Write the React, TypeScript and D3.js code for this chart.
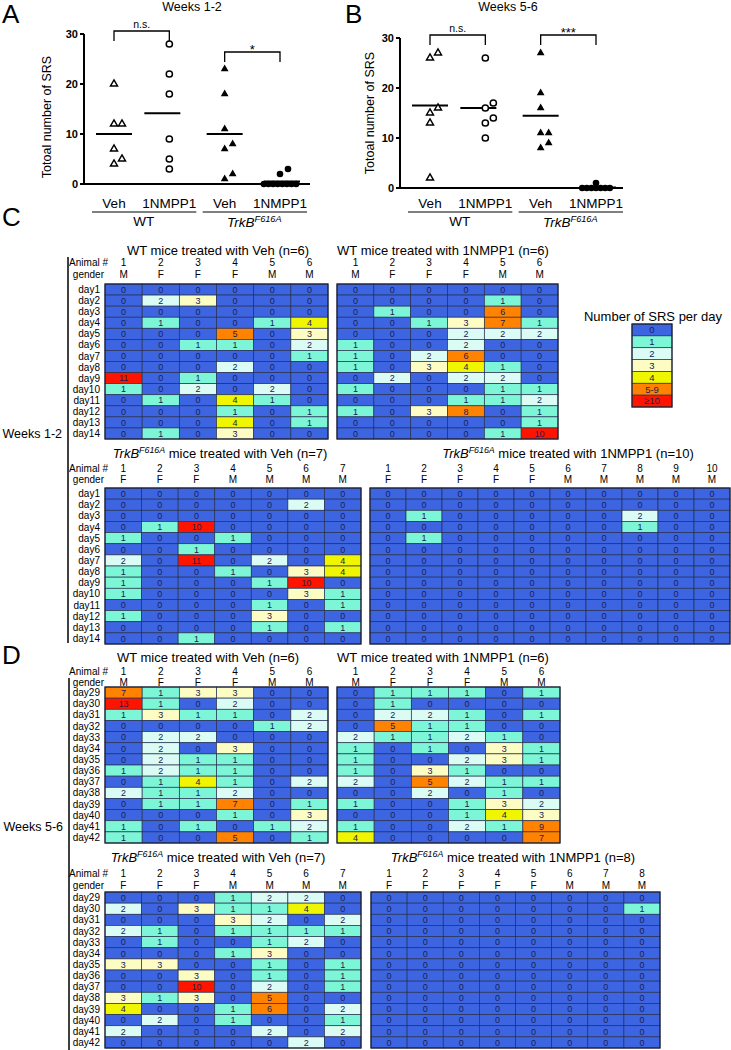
import React from "react";
import * as d3 from "d3";

const FONT = "'Liberation Sans', Arial, Helvetica, sans-serif";

// ---------------- Panels A & B : total SRS per animal ----------------
const treatmentLabels = ["Veh", "1NMPP1", "Veh", "1NMPP1"];
const yTicks = [0, 10, 20, 30];

const wk12WTVeh = [20, 12, 12, 7, 5, 4];
const wk12WTNmpp1 = [28, 22, 18, 9, 5, 3];
const wk12TrkBVeh = [23, 18, 11, 8, 7, 2, 1];
const wk12TrkBNmpp1 = [3, 2, 0, 0, 0, 0, 0, 0, 0, 0];

const wk56WTVeh = [27, 26, 16, 15, 13, 2];
const wk56WTNmpp1 = [26, 17, 16, 14, 13, 10];
const wk56TrkBVeh = [27, 19, 16, 11, 11, 9, 8];
const wk56TrkBNmpp1 = [1, 0, 0, 0, 0, 0, 0, 0];

// ---------------- Panels C & D : SRS per day ----------------
const days12 = ["day1", "day2", "day3", "day4", "day5", "day6", "day7", "day8", "day9", "day10", "day11", "day12", "day13", "day14"];
const days56 = ["day29", "day30", "day31", "day32", "day33", "day34", "day35", "day36", "day37", "day38", "day39", "day40", "day41", "day42"];

const cWTVehGender = ["M", "F", "F", "F", "M", "M"];
const cWTVeh = [
  [0, 0, 0, 0, 0, 0],
  [0, 2, 3, 0, 0, 0],
  [0, 0, 0, 0, 0, 0],
  [0, 1, 0, 0, 1, 4],
  [0, 0, 0, 5, 0, 3],
  [0, 0, 1, 1, 0, 2],
  [0, 0, 0, 0, 0, 1],
  [0, 0, 0, 2, 0, 0],
  [11, 0, 1, 0, 0, 0],
  [1, 0, 2, 0, 2, 0],
  [0, 1, 0, 4, 1, 0],
  [0, 0, 0, 1, 0, 1],
  [0, 0, 0, 4, 0, 1],
  [0, 1, 0, 3, 0, 0],
];

const cWTNmpp1Gender = ["M", "F", "F", "F", "M", "M"];
const cWTNmpp1 = [
  [0, 0, 0, 0, 0, 0],
  [0, 0, 0, 0, 1, 0],
  [0, 1, 0, 0, 6, 0],
  [0, 0, 1, 3, 7, 1],
  [0, 0, 0, 2, 2, 2],
  [1, 0, 0, 2, 0, 0],
  [1, 0, 2, 6, 0, 0],
  [1, 0, 3, 4, 1, 0],
  [0, 2, 0, 2, 2, 0],
  [1, 0, 0, 0, 1, 1],
  [0, 0, 0, 1, 1, 2],
  [1, 0, 3, 8, 0, 1],
  [0, 0, 0, 0, 0, 1],
  [0, 0, 0, 0, 1, 10],
];

const cTrkBVehGender = ["F", "F", "F", "M", "M", "M", "M"];
const cTrkBVeh = [
  [0, 0, 0, 0, 0, 0, 0],
  [0, 0, 0, 0, 0, 2, 0],
  [0, 0, 0, 0, 0, 0, 0],
  [0, 1, 10, 0, 0, 0, 0],
  [1, 0, 0, 1, 0, 0, 0],
  [0, 0, 1, 0, 0, 0, 0],
  [2, 0, 11, 0, 2, 0, 4],
  [1, 0, 0, 1, 0, 3, 4],
  [1, 0, 0, 0, 1, 10, 0],
  [1, 0, 0, 0, 0, 3, 1],
  [0, 0, 0, 0, 1, 0, 1],
  [1, 0, 0, 0, 3, 0, 0],
  [0, 0, 0, 0, 1, 0, 1],
  [0, 0, 1, 0, 0, 0, 0],
];

const cTrkBNmpp1Gender = ["F", "F", "F", "F", "F", "M", "M", "M", "M", "M"];
const cTrkBNmpp1 = [
  [0, 0, 0, 0, 0, 0, 0, 0, 0, 0],
  [0, 0, 0, 0, 0, 0, 0, 0, 0, 0],
  [0, 1, 0, 0, 0, 0, 0, 2, 0, 0],
  [0, 0, 0, 0, 0, 0, 0, 1, 0, 0],
  [0, 1, 0, 0, 0, 0, 0, 0, 0, 0],
  [0, 0, 0, 0, 0, 0, 0, 0, 0, 0],
  [0, 0, 0, 0, 0, 0, 0, 0, 0, 0],
  [0, 0, 0, 0, 0, 0, 0, 0, 0, 0],
  [0, 0, 0, 0, 0, 0, 0, 0, 0, 0],
  [0, 0, 0, 0, 0, 0, 0, 0, 0, 0],
  [0, 0, 0, 0, 0, 0, 0, 0, 0, 0],
  [0, 0, 0, 0, 0, 0, 0, 0, 0, 0],
  [0, 0, 0, 0, 0, 0, 0, 0, 0, 0],
  [0, 0, 0, 0, 0, 0, 0, 0, 0, 0],
];

const dWTVehGender = ["M", "F", "F", "F", "M", "M"];
const dWTVeh = [
  [7, 1, 3, 3, 0, 0],
  [13, 1, 0, 2, 0, 0],
  [1, 3, 1, 1, 0, 2],
  [0, 0, 0, 0, 1, 2],
  [0, 2, 2, 0, 0, 0],
  [0, 2, 0, 3, 0, 0],
  [0, 2, 1, 1, 0, 0],
  [1, 2, 1, 1, 0, 0],
  [0, 1, 4, 1, 0, 2],
  [2, 1, 1, 2, 0, 0],
  [0, 1, 1, 7, 0, 1],
  [0, 0, 0, 1, 0, 3],
  [1, 0, 1, 0, 1, 2],
  [1, 0, 0, 5, 0, 1],
];

const dWTNmpp1Gender = ["M", "F", "F", "F", "M", "M"];
const dWTNmpp1 = [
  [0, 1, 1, 1, 0, 1],
  [0, 1, 0, 0, 0, 0],
  [0, 2, 2, 1, 0, 1],
  [0, 5, 1, 1, 0, 0],
  [2, 1, 1, 2, 1, 0],
  [1, 0, 1, 0, 3, 1],
  [1, 0, 0, 2, 3, 1],
  [1, 0, 3, 1, 0, 0],
  [2, 0, 5, 2, 1, 1],
  [0, 0, 2, 0, 1, 0],
  [1, 0, 0, 1, 3, 2],
  [0, 0, 0, 1, 4, 3],
  [1, 0, 0, 2, 1, 9],
  [4, 0, 0, 0, 0, 7],
];

const dTrkBVehGender = ["F", "F", "F", "M", "M", "M", "M"];
const dTrkBVeh = [
  [0, 0, 0, 1, 2, 2, 0],
  [2, 0, 3, 1, 1, 4, 0],
  [0, 0, 0, 3, 2, 0, 2],
  [2, 1, 0, 1, 1, 1, 1],
  [0, 1, 0, 0, 1, 2, 0],
  [0, 0, 0, 1, 3, 0, 0],
  [3, 3, 0, 0, 1, 0, 1],
  [0, 0, 3, 0, 1, 0, 1],
  [0, 0, 10, 0, 2, 0, 1],
  [3, 1, 3, 0, 5, 0, 0],
  [4, 0, 0, 1, 6, 0, 2],
  [0, 2, 0, 1, 0, 0, 1],
  [2, 0, 0, 0, 2, 0, 2],
  [0, 0, 0, 0, 0, 2, 0],
];

const dTrkBNmpp1Gender = ["F", "F", "F", "F", "F", "M", "M", "M"];
const dTrkBNmpp1 = [
  [0, 0, 0, 0, 0, 0, 0, 0],
  [0, 0, 0, 0, 0, 0, 0, 1],
  [0, 0, 0, 0, 0, 0, 0, 0],
  [0, 0, 0, 0, 0, 0, 0, 0],
  [0, 0, 0, 0, 0, 0, 0, 0],
  [0, 0, 0, 0, 0, 0, 0, 0],
  [0, 0, 0, 0, 0, 0, 0, 0],
  [0, 0, 0, 0, 0, 0, 0, 0],
  [0, 0, 0, 0, 0, 0, 0, 0],
  [0, 0, 0, 0, 0, 0, 0, 0],
  [0, 0, 0, 0, 0, 0, 0, 0],
  [0, 0, 0, 0, 0, 0, 0, 0],
  [0, 0, 0, 0, 0, 0, 0, 0],
  [0, 0, 0, 0, 0, 0, 0, 0],
];

// colour legend
const colorBreaks = [1, 2, 3, 4, 5, 10];
const colorRange = ["#3d65e2", "#7df6d7", "#dafcf5", "#fdfcc2", "#f0f500", "#ff8200", "#ff1400"];
const legendValues = [0, 1, 2, 3, 4, 5, 10];
const legendLabels = ["0", "1", "2", "3", "4", "5-9", "≥10"];

const color = d3.scaleThreshold<number, string>().domain(colorBreaks).range(colorRange);

// ---------------- layout ----------------
const meanShift = [0, -7, 0, 2];

const scatterPanels = [
  {
    letter: "A", letterX: 2, title: "Weeks 1-2", titleX: 192,
    axisX: 84, axisRight: 310, yTop: 34, yBottom: 184, yLabelX: 47, yLabelY: 117,
    groups: [wk12WTVeh, wk12WTNmpp1, wk12TrkBVeh, wk12TrkBNmpp1],
    brackets: [{ a: 0, b: 1, label: "n.s.", top: 31 }, { a: 2, b: 3, label: "*", top: 52 }],
  },
  {
    letter: "B", letterX: 345, title: "Weeks 5-6", titleX: 508,
    axisX: 400, axisRight: 623, yTop: 38, yBottom: 188, yLabelX: 370, yLabelY: 113,
    groups: [wk56WTVeh, wk56WTNmpp1, wk56TrkBVeh, wk56TrkBNmpp1],
    brackets: [{ a: 0, b: 1, label: "n.s.", top: 35 }, { a: 2, b: 3, label: "***", top: 35 }],
  },
];

const tables = [
  { data: cWTVeh, genders: cWTVehGender, days: days12, trkb: false, title: "WT mice treated with Veh (n=6)", titleX: 218, titleY: 250, numY: 262, genY: 274, x0: 105, x1: 328, y0: 284, y1: 439, rowLabels: true },
  { data: cWTNmpp1, genders: cWTNmpp1Gender, days: days12, trkb: false, title: "WT mice treated with 1NMPP1 (n=6)", titleX: 443, titleY: 250, numY: 262, genY: 274, x0: 337, x1: 558, y0: 284, y1: 439, rowLabels: false },
  { data: cTrkBVeh, genders: cTrkBVehGender, days: days12, trkb: true, title: " mice treated with Veh (n=7)", titleX: 220, titleY: 453, numY: 468, genY: 479, x0: 105, x1: 361, y0: 488, y1: 644, rowLabels: true },
  { data: cTrkBNmpp1, genders: cTrkBNmpp1Gender, days: days12, trkb: true, title: " mice treated with 1NMPP1 (n=10)", titleX: 568, titleY: 453, numY: 468, genY: 479, x0: 370, x1: 730, y0: 488, y1: 644, rowLabels: false },
  { data: dWTVeh, genders: dWTVehGender, days: days56, trkb: false, title: "WT mice treated with Veh (n=6)", titleX: 208, titleY: 657, numY: 671, genY: 682, x0: 105, x1: 328, y0: 687, y1: 843, rowLabels: true },
  { data: dWTNmpp1, genders: dWTNmpp1Gender, days: days56, trkb: false, title: "WT mice treated with 1NMPP1 (n=6)", titleX: 443, titleY: 657, numY: 671, genY: 682, x0: 337, x1: 560, y0: 687, y1: 843, rowLabels: false },
  { data: dTrkBVeh, genders: dTrkBVehGender, days: days56, trkb: true, title: " mice treated with Veh (n=7)", titleX: 218, titleY: 857, numY: 873, genY: 885, x0: 105, x1: 361, y0: 892, y1: 1048, rowLabels: true },
  { data: dTrkBNmpp1, genders: dTrkBNmpp1Gender, days: days56, trkb: true, title: " mice treated with 1NMPP1 (n=8)", titleX: 513, titleY: 857, numY: 873, genY: 885, x0: 371, x1: 660, y0: 892, y1: 1048, rowLabels: false },
];

// ---------------- helpers ----------------
function dodge(values: number[], y: (v: number) => number, cx: number) {
  const counts = d3.rollup(values, (v) => v.length, (d) => d);
  const out: { v: number; x: number; y: number }[] = [];
  const placed: { x: number; y: number }[] = [];
  const step = 4.6;
  for (const [val, n] of counts) {
    if (n >= 4) {
      for (let i = 0; i < n; i++) out.push({ v: val, x: cx + (i - (n - 1) / 2) * step, y: y(val) });
    }
  }
  const rest = values.filter((v) => (counts.get(v) as number) < 4).sort((a, b) => a - b);
  for (const v of rest) {
    const py = y(v);
    let px = cx;
    for (const off of [0, 8, -8, 16, -16]) {
      const cand = cx + off;
      if (!placed.some((p) => Math.abs(p.x - cand) < 6 && Math.abs(p.y - py) < 7)) {
        px = cand;
        break;
      }
    }
    placed.push({ x: px, y: py });
    out.push({ v, x: px, y: py });
  }
  return out;
}

const triOpen = d3.symbol().type(d3.symbolTriangle).size(22)() as string;
const triFill = d3.symbol().type(d3.symbolTriangle).size(26)() as string;

function Marker({ kind, x, y }: { kind: number; x: number; y: number }) {
  if (kind === 0) return <path d={triOpen} transform={`translate(${x},${y})`} fill="#fff" stroke="#000" strokeWidth={1.4} />;
  if (kind === 1) return <circle cx={x} cy={y} r={3.1} fill="#fff" stroke="#000" strokeWidth={1.5} />;
  if (kind === 2) return <path d={triFill} transform={`translate(${x},${y})`} fill="#000" />;
  return <circle cx={x} cy={y} r={3.3} fill="#000" />;
}

function TrkBLabel({ x, y, size, rest, anchor }: { x: number; y: number; size: number; rest: string; anchor: string }) {
  return (
    <text x={x} y={y} fontSize={size} textAnchor={anchor as any} fill="#000">
      <tspan fontStyle="italic">TrkB</tspan>
      <tspan fontStyle="italic" fontSize={size * 0.68} dy={-size * 0.38}>F616A</tspan>
      <tspan dy={size * 0.38}>{rest}</tspan>
    </text>
  );
}

function ScatterPanel({ cfg }: { cfg: (typeof scatterPanels)[number] }) {
  const y = d3.scaleLinear().domain([0, 30]).range([cfg.yBottom, cfg.yTop]);
  const x = d3.scalePoint<number>().domain(d3.range(4)).range([cfg.axisX + 30, cfg.axisX + 196]);
  const labY = 208;
  const lineY = 212;
  const grpY = 226;
  return (
    <g>
      <text x={cfg.letterX} y={23} fontSize={26}>{cfg.letter}</text>
      <text x={cfg.titleX} y={11} fontSize={12.5} textAnchor="middle">{cfg.title}</text>
      <text transform={`translate(${cfg.yLabelX},${cfg.yLabelY}) rotate(-90)`} fontSize={12.5} textAnchor="middle" dy="0.35em">
        Totoal number of SRS
      </text>
      {/* axes */}
      <line x1={cfg.axisX} x2={cfg.axisX} y1={y(30)} y2={y(0) + 1} stroke="#000" strokeWidth={2} />
      <line x1={cfg.axisX - 1} x2={cfg.axisRight} y1={y(0)} y2={y(0)} stroke="#000" strokeWidth={2} />
      {yTicks.map((t) => (
        <g key={t}>
          <line x1={cfg.axisX - 4} x2={cfg.axisX} y1={y(t)} y2={y(t)} stroke="#000" strokeWidth={2} />
          <text x={cfg.axisX - 6} y={y(t)} dy="0.35em" fontSize={11} fontWeight="bold" textAnchor="end">{t}</text>
        </g>
      ))}
      {/* points & means */}
      {cfg.groups.map((vals, gi) => {
        const cx = x(gi) as number;
        const pts = dodge(vals, y, cx);
        const m = d3.mean(vals) as number;
        const lc = cx + meanShift[gi];
        return (
          <g key={gi}>
            <line x1={lc - 18} x2={lc + 18} y1={y(m)} y2={y(m)} stroke="#000" strokeWidth={2} />
            {pts.map((p, i) => <Marker key={i} kind={gi} x={p.x} y={p.y} />)}
          </g>
        );
      })}
      {/* brackets */}
      {cfg.brackets.map((b, i) => {
        const xa = x(b.a) as number;
        const xb = x(b.b) as number;
        return (
          <g key={i}>
            <path d={`M${xa},${b.top + 10}V${b.top}H${xb}V${b.top + 10}`} fill="none" stroke="#000" strokeWidth={1.3} />
            <text x={(xa + xb) / 2} y={b.label === "n.s." ? b.top - 3 : b.top + 2} fontSize={b.label === "n.s." ? 10.5 : 13} textAnchor="middle">
              {b.label}
            </text>
          </g>
        );
      })}
      {/* x labels */}
      {treatmentLabels.map((l, i) => (
        <text key={i} x={x(i) as number} y={labY} fontSize={13.5} textAnchor="middle">{l}</text>
      ))}
      {[0, 2].map((a) => (
        <line key={a} x1={(x(a) as number) - 22} x2={(x(a + 1) as number) + 27} y1={lineY} y2={lineY} stroke="#000" strokeWidth={1} />
      ))}
      <text x={((x(0) as number) + (x(1) as number)) / 2 + 2} y={grpY} fontSize={13.5} textAnchor="middle">WT</text>
      <TrkBLabel x={((x(2) as number) + (x(3) as number)) / 2 + 2} y={grpY + 1} size={13.5} rest="" anchor="middle" />
    </g>
  );
}

function Heatmap({ t }: { t: (typeof tables)[number] }) {
  const nRows = t.data.length;
  const nCols = t.data[0].length;
  const x = d3.scaleBand<number>().domain(d3.range(nCols)).range([t.x0, t.x1]);
  const y = d3.scaleBand<number>().domain(d3.range(nRows)).range([t.y0, t.y1]);
  const bw = x.bandwidth();
  const bh = y.bandwidth();
  return (
    <g>
      {t.trkb ? (
        <TrkBLabel x={t.titleX} y={t.titleY + 4.5} size={13} rest={t.title} anchor="middle" />
      ) : (
        <text x={t.titleX} y={t.titleY + 4.5} fontSize={13} textAnchor="middle">{t.title}</text>
      )}
      {t.rowLabels && (
        <>
          <text x={108} y={t.numY} dy="0.35em" fontSize={10} textAnchor="end">Animal #</text>
          <text x={104} y={t.genY} dy="0.35em" fontSize={10} textAnchor="end">gender</text>
        </>
      )}
      {t.genders.map((g, i) => (
        <g key={i}>
          <text x={(x(i) as number) + bw / 2} y={t.numY} dy="0.35em" fontSize={10} textAnchor="middle">{i + 1}</text>
          <text x={(x(i) as number) + bw / 2} y={t.genY} dy="0.35em" fontSize={10} textAnchor="middle">{g}</text>
        </g>
      ))}
      {t.data.map((row, r) => (
        <g key={r}>
          {t.rowLabels && (
            <text x={100} y={(y(r) as number) + bh / 2} dy="0.36em" fontSize={10} textAnchor="end">{t.days[r]}</text>
          )}
          {row.map((v, c) => (
            <g key={c}>
              <rect x={x(c)} y={y(r)} width={bw} height={bh} fill={color(v)} stroke="#26304f" strokeWidth={0.7} />
              <text x={(x(c) as number) + bw / 2} y={(y(r) as number) + bh / 2} dy="0.36em" fontSize={9} textAnchor="middle" fill="#1a2150">
                {v}
              </text>
            </g>
          ))}
        </g>
      ))}
      <rect x={t.x0} y={t.y0} width={t.x1 - t.x0} height={t.y1 - t.y0} fill="none" stroke="#1e2235" strokeWidth={1.2} />
    </g>
  );
}

function Legend() {
  const x0 = 632;
  const w = 40;
  const y = d3.scaleBand<number>().domain(d3.range(legendValues.length)).range([324, 407]);
  return (
    <g>
      <text x={653} y={320.5} fontSize={13} textAnchor="middle">Number of SRS per day</text>
      {legendValues.map((v, i) => (
        <g key={i}>
          <rect x={x0} y={y(i)} width={w} height={y.bandwidth()} fill={color(v)} stroke="#26304f" strokeWidth={0.7} />
          <text x={x0 + w / 2} y={(y(i) as number) + y.bandwidth() / 2} dy="0.36em" fontSize={9.5} textAnchor="middle" fill="#1a2150">
            {legendLabels[i]}
          </text>
        </g>
      ))}
      <rect x={x0} y={324} width={w} height={83} fill="none" stroke="#1e2235" strokeWidth={1.2} />
    </g>
  );
}

export default function App() {
  return (
    <svg
      width={731}
      height={1050}
      viewBox="0 0 731 1050"
      fontFamily={FONT}
      style={{ position: "absolute", left: 0, top: 0, background: "#fff" }}
    >
      <rect width={731} height={1050} fill="#fff" />
      {scatterPanels.map((p) => <ScatterPanel key={p.letter} cfg={p} />)}

      <text x={2} y={226} fontSize={26}>C</text>
      <text x={2} y={664} fontSize={26}>D</text>

      <line x1={68} x2={68} y1={257} y2={643} stroke="#000" strokeWidth={1.5} />
      <text x={62} y={434} dy="0.35em" fontSize={12.5} textAnchor="end">Weeks 1-2</text>
      <line x1={69} x2={69} y1={678} y2={1050} stroke="#000" strokeWidth={1.5} />
      <text x={63} y={827} dy="0.35em" fontSize={12.5} textAnchor="end">Weeks 5-6</text>

      {tables.map((t, i) => <Heatmap key={i} t={t} />)}
      <Legend />
    </svg>
  );
}
